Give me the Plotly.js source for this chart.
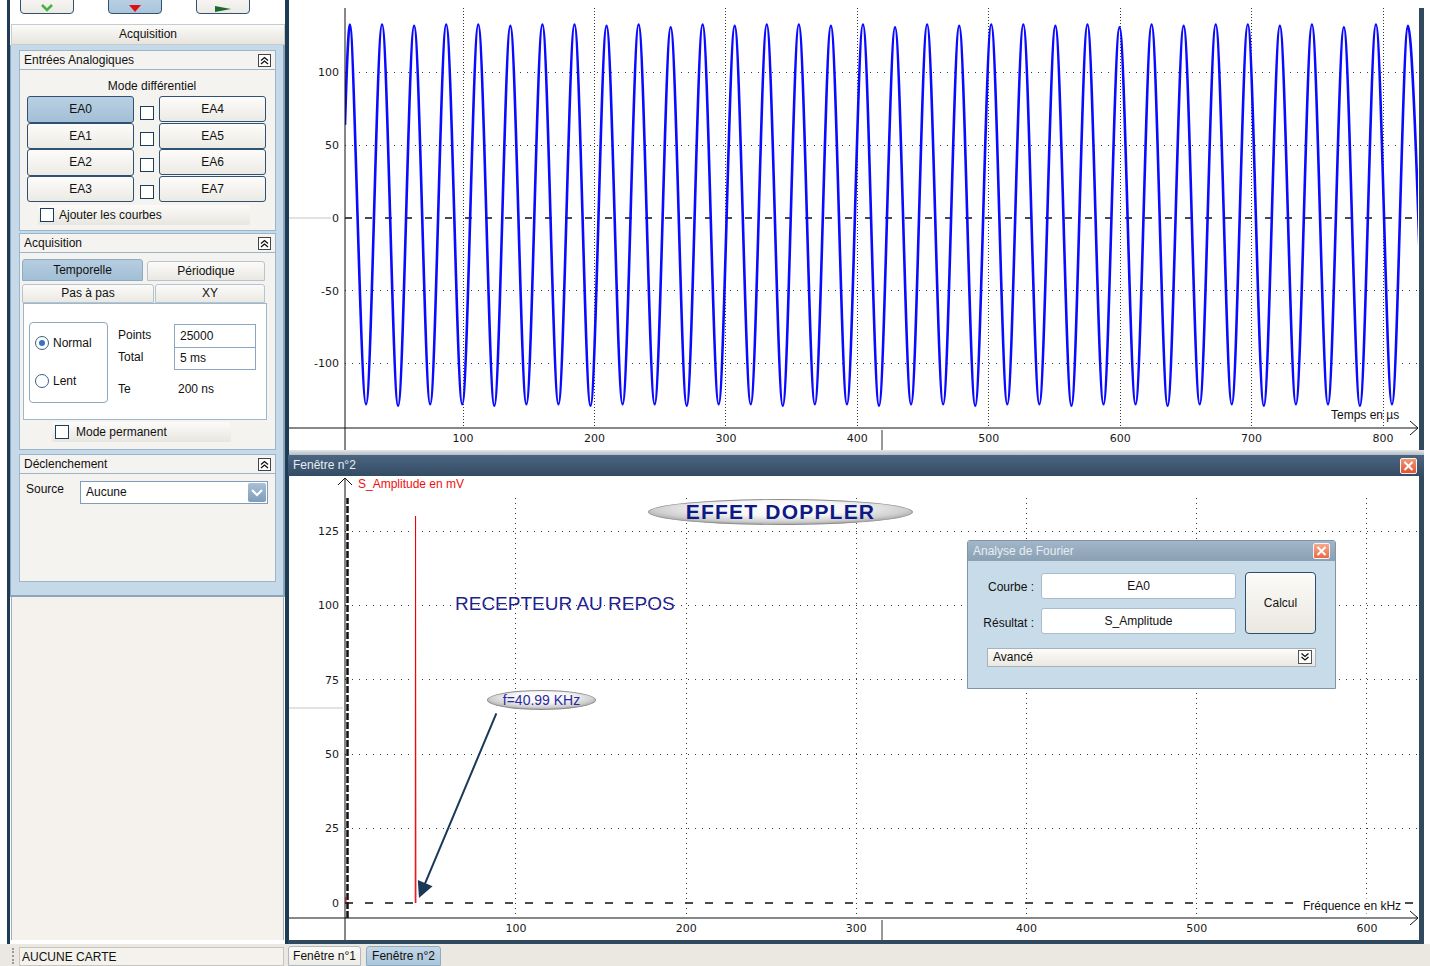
<!DOCTYPE html>
<html><head><meta charset="utf-8">
<script src="https://cdn.plot.ly/plotly-3.0.1.min.js"></script>
<style>
html,body{margin:0;padding:0}
body{width:1430px;height:966px;position:relative;overflow:hidden;background:#fff;font-family:"Liberation Sans",Arial,sans-serif;font-size:12px;color:#111}
.a{position:absolute;box-sizing:border-box}
.t{position:absolute;white-space:nowrap;line-height:14px}
.btn{position:absolute;box-sizing:border-box;border:1px solid #2f5273;border-radius:3px;background:linear-gradient(#fdfcfa,#eceae4);text-align:center;white-space:nowrap}
.sel{background:linear-gradient(#b9d0e3,#a3bfd6)}
.cb{position:absolute;box-sizing:border-box;width:14px;height:14px;border:1px solid #1d3c5c;background:#fff}
.hdr{position:absolute;box-sizing:border-box;left:19px;width:257px;height:20px;background:#f5f3ef;border:1px solid #9ab4ca;padding-left:4px;line-height:18px}
.bd{position:absolute;box-sizing:border-box;left:19px;width:257px;background:#f5f3ef;border:1px solid #9ab4ca;border-top:none}
.col{position:absolute;right:4px;top:3px;width:13px;height:13px;box-sizing:border-box;border:1px solid #444;background:#fff}
.bar{position:absolute;box-sizing:border-box;background:linear-gradient(#fcfbf9,#e8e6e0);border-radius:2px}
.inp{position:absolute;box-sizing:border-box;background:#fff;border:1px solid #8ba6be;padding-left:5px;white-space:nowrap}
.ell{position:absolute;box-sizing:border-box;border-radius:50%;border:1px solid #8c8c8c;background:radial-gradient(ellipse 60% 70% at 50% 35%,#ffffff 0%,#f6f6f6 45%,#cfcfcf 80%,#9c9c9c 100%);text-align:center;white-space:nowrap}
</style></head><body>

<!-- left application panel -->
<div class="a" style="left:11px;top:597px;width:273px;height:343px;background:#f5f2ed;border-left:1px solid #9fb0bd;border-right:1px solid #9fb0bd"></div>
<div class="a" style="left:7px;top:0;width:3px;height:944px;background:#1f3a53"></div>
<div class="a" style="left:285px;top:0;width:4px;height:944px;background:#1f3a53"></div>

<div class="a" style="left:20px;top:-10px;width:54px;height:24px;border:1px solid #2f5273;border-radius:4px;background:linear-gradient(#fdfcfa,#eceae4)"><svg width="52" height="22" style="position:absolute;left:0;top:0"><polyline points="21,14 26,19 31,14" fill="none" stroke="#49b043" stroke-width="2.5"/></svg></div>
<div class="a" style="left:108px;top:-10px;width:54px;height:24px;border:1px solid #2f5273;border-radius:4px;background:linear-gradient(#c3d7e7,#a9c4da)"><svg width="52" height="22" style="position:absolute;left:0;top:0"><polygon points="20,14 32,14 26,21" fill="#e01010"/></svg></div>
<div class="a" style="left:196px;top:-10px;width:54px;height:24px;border:1px solid #2f5273;border-radius:4px;background:linear-gradient(#fdfcfa,#eceae4)"><svg width="52" height="22" style="position:absolute;left:0;top:0"><polygon points="18,15 34,18 18,21" fill="#1d6a2c"/></svg></div>

<div class="a" style="left:11px;top:24px;width:274px;height:21px;background:linear-gradient(#fcfbf9,#e7e4dd);border:1px solid #c3cbd3;text-align:center;line-height:19px">Acquisition</div>
<div class="a" style="left:10px;top:45px;width:275px;height:552px;background:#c6d9e8;border-left:1px solid #8aa5bd;border-right:2px solid #8aa5bd;border-bottom:2px solid #8aa5bd"></div>

<div class="hdr" style="top:50px">Entrées Analogiques<div class="col"><svg width="11" height="11" style="position:absolute;left:0;top:0"><polyline points="2,5.5 5.5,2.5 9,5.5" fill="none" stroke="#111" stroke-width="1.3"/><polyline points="2,9 5.5,6 9,9" fill="none" stroke="#111" stroke-width="1.3"/></svg></div></div>
<div class="bd" style="top:70px;height:161px"></div>
<div class="t" style="left:52px;top:79px;width:200px;text-align:center">Mode différentiel</div>
<div class="btn sel" style="left:27px;top:96px;width:107px;height:27px;line-height:25px">EA0</div>
<div class="btn" style="left:159px;top:96px;width:107px;height:26px;line-height:24px">EA4</div>
<div class="btn" style="left:27px;top:123px;width:107px;height:26px;line-height:24px">EA1</div>
<div class="btn" style="left:159px;top:123px;width:107px;height:26px;line-height:24px">EA5</div>
<div class="btn" style="left:27px;top:149px;width:107px;height:27px;line-height:25px">EA2</div>
<div class="btn" style="left:159px;top:149px;width:107px;height:26px;line-height:24px">EA6</div>
<div class="btn" style="left:27px;top:176px;width:107px;height:26px;line-height:24px">EA3</div>
<div class="btn" style="left:159px;top:176px;width:107px;height:26px;line-height:24px">EA7</div>
<div class="cb" style="left:140px;top:106px"></div>
<div class="cb" style="left:140px;top:132px"></div>
<div class="cb" style="left:140px;top:158px"></div>
<div class="cb" style="left:140px;top:185px"></div>
<div class="bar" style="left:38px;top:205px;width:212px;height:20px"></div>
<div class="cb" style="left:40px;top:208px;width:14px;height:14px"></div>
<div class="t" style="left:59px;top:208px">Ajouter les courbes</div>

<div class="hdr" style="top:233px">Acquisition<div class="col"><svg width="11" height="11" style="position:absolute;left:0;top:0"><polyline points="2,5.5 5.5,2.5 9,5.5" fill="none" stroke="#111" stroke-width="1.3"/><polyline points="2,9 5.5,6 9,9" fill="none" stroke="#111" stroke-width="1.3"/></svg></div></div>
<div class="bd" style="top:253px;height:197px"></div>
<div class="a" style="left:22px;top:259px;width:121px;height:22px;background:linear-gradient(#b5cde0,#a3bfd6);border:1px solid #8eabc4;border-radius:3px 3px 0 0;text-align:center;line-height:20px">Temporelle</div>
<div class="a" style="left:147px;top:261px;width:118px;height:20px;background:linear-gradient(#fcfbf9,#eae8e2);border:1px solid #b6c4d0;border-radius:3px 3px 0 0;text-align:center;line-height:18px">Périodique</div>
<div class="a" style="left:22px;top:284px;width:132px;height:19px;background:linear-gradient(#fcfbf9,#eae8e2);border:1px solid #b6c4d0;border-radius:3px 3px 0 0;text-align:center;line-height:17px">Pas à pas</div>
<div class="a" style="left:155px;top:284px;width:110px;height:19px;background:linear-gradient(#fcfbf9,#eae8e2);border:1px solid #b6c4d0;border-radius:3px 3px 0 0;text-align:center;line-height:17px">XY</div>
<div class="a" style="left:23px;top:303px;width:244px;height:117px;background:#fff;border:1px solid #9db7cc"></div>
<div class="a" style="left:29px;top:322px;width:79px;height:81px;background:#fff;border:1px solid #91a9be;border-radius:4px"></div>
<div class="a" style="left:35px;top:336px;width:14px;height:14px;border:1px solid #3a5f85;border-radius:50%;background:#fff"><div class="a" style="left:3px;top:3px;width:6px;height:6px;border-radius:50%;background:#3d6fc6"></div></div>
<div class="t" style="left:53px;top:336px">Normal</div>
<div class="a" style="left:35px;top:374px;width:14px;height:14px;border:1px solid #3a5f85;border-radius:50%;background:#fff"></div>
<div class="t" style="left:53px;top:374px">Lent</div>
<div class="t" style="left:118px;top:328px">Points</div>
<div class="t" style="left:118px;top:350px">Total</div>
<div class="t" style="left:118px;top:382px">Te</div>
<div class="inp" style="left:174px;top:324px;width:82px;height:24px;line-height:22px">25000</div>
<div class="inp" style="left:174px;top:347px;width:82px;height:23px;line-height:21px">5 ms</div>
<div class="t" style="left:178px;top:382px">200 ns</div>
<div class="bar" style="left:52px;top:422px;width:179px;height:20px"></div>
<div class="cb" style="left:55px;top:425px"></div>
<div class="t" style="left:76px;top:425px">Mode permanent</div>

<div class="hdr" style="top:454px">Déclenchement<div class="col"><svg width="11" height="11" style="position:absolute;left:0;top:0"><polyline points="2,5.5 5.5,2.5 9,5.5" fill="none" stroke="#111" stroke-width="1.3"/><polyline points="2,9 5.5,6 9,9" fill="none" stroke="#111" stroke-width="1.3"/></svg></div></div>
<div class="bd" style="top:474px;height:108px"></div>
<div class="t" style="left:26px;top:482px">Source</div>
<div class="inp" style="left:80px;top:481px;width:188px;height:23px;line-height:21px;border-color:#7f9db9">Aucune</div>
<div class="a" style="left:248px;top:483px;width:18px;height:19px;background:linear-gradient(#a9c0d6,#7f9cb8);border-radius:2px"><svg width="18" height="19" style="position:absolute;left:0;top:0"><polyline points="4,7 9,12 14,7" fill="none" stroke="#fff" stroke-width="2.2"/></svg></div>

<!-- status bar -->
<div class="a" style="left:0;top:944px;width:1430px;height:22px;background:#ebe8e1"></div>
<div class="a" style="left:12px;top:948px;width:2px;height:16px;border-left:2px dotted #9a9a9a"></div>
<div class="a" style="left:19px;top:947px;width:265px;height:19px;background:#f4f2ec;border:1px solid #c9c5bd;padding-left:2px;line-height:19px">AUCUNE CARTE</div>
<div class="a" style="left:288px;top:946px;width:73px;height:20px;background:linear-gradient(#fbfaf7,#eeece6);border:1px solid #aeb9c4;border-radius:3px 3px 0 0;text-align:center;line-height:19px">Fenêtre n°1</div>
<div class="a" style="left:366px;top:946px;width:75px;height:20px;background:linear-gradient(#c3d7e7,#abc5da);border:1px solid #8eabc4;border-radius:3px 3px 0 0;text-align:center;line-height:19px">Fenêtre n°2</div>

<!-- chart window frames -->
<div class="a" style="left:1419px;top:8px;width:5px;height:443px;background:#31495f"></div>
<div class="a" style="left:289px;top:450px;width:1135px;height:5px;background:linear-gradient(#e3e6ea,#b5bdc6)"></div>
<div class="a" style="left:288px;top:455px;width:1136px;height:21px;background:linear-gradient(#4b6581,#344b63);color:#e6edf4;padding-left:5px;line-height:21px">Fenêtre n°2</div>
<div class="a" style="left:1400px;top:458px;width:17px;height:16px;background:linear-gradient(#f29a78,#e2512f);border:1px solid #f4f4f4;border-radius:2px"><svg width="15" height="14" style="position:absolute;left:0;top:0"><line x1="3.5" y1="3" x2="11.5" y2="11" stroke="#fff" stroke-width="2"/><line x1="11.5" y1="3" x2="3.5" y2="11" stroke="#fff" stroke-width="2"/></svg></div>
<div class="a" style="left:1419px;top:476px;width:5px;height:468px;background:#31495f"></div>
<div class="a" style="left:288px;top:940px;width:1136px;height:4px;background:#31495f"></div>

<div id="top" class="a" style="left:289px;top:8px;width:1129px;height:442px"></div>
<div id="bot" class="a" style="left:289px;top:476px;width:1129px;height:464px"></div>

<!-- labels drawn in the acquisition software -->
<div class="ell" style="left:648px;top:499px;width:265px;height:26px;font-weight:bold;font-size:21px;letter-spacing:1.2px;line-height:24px;color:#0d1a86">EFFET DOPPLER</div>
<div class="ell" style="left:487px;top:690px;width:109px;height:20px;font-size:14px;line-height:18px;color:#2a2aa0">f=40.99 KHz</div>

<!-- Fourier dialog -->
<div class="a" style="left:967px;top:540px;width:369px;height:149px;background:#c8dbe9;border:1px solid #7e95a9;border-radius:3px 3px 0 0"></div>
<div class="a" style="left:968px;top:541px;width:367px;height:20px;background:linear-gradient(#a2b6c8,#8aa0b3);color:#e6edf3;padding-left:5px;line-height:20px">Analyse de Fourier</div>
<div class="a" style="left:1313px;top:543px;width:17px;height:16px;background:linear-gradient(#f7a98c,#ea6a4a);border:1px solid #f4f4f4;border-radius:2px"><svg width="15" height="14" style="position:absolute;left:0;top:0"><line x1="3.5" y1="3" x2="11.5" y2="11" stroke="#fff" stroke-width="2"/><line x1="11.5" y1="3" x2="3.5" y2="11" stroke="#fff" stroke-width="2"/></svg></div>
<div class="t" style="left:960px;top:580px;width:74px;text-align:right">Courbe :</div>
<div class="t" style="left:960px;top:616px;width:74px;text-align:right">Résultat :</div>
<div class="a" style="left:1041px;top:573px;width:195px;height:26px;background:#fff;border:1px solid #a9bccc;border-radius:3px;text-align:center;line-height:24px">EA0</div>
<div class="a" style="left:1041px;top:608px;width:195px;height:26px;background:#fff;border:1px solid #a9bccc;border-radius:3px;text-align:center;line-height:24px">S_Amplitude</div>
<div class="a" style="left:1245px;top:572px;width:71px;height:62px;background:linear-gradient(#fcfbf8,#eae7df);border:1px solid #2c4e70;border-radius:4px;text-align:center;line-height:60px">Calcul</div>
<div class="a" style="left:987px;top:648px;width:329px;height:19px;background:linear-gradient(#fdfcfa,#ebe8e1);border:1px solid #a6b3bf;padding-left:5px;line-height:17px">Avancé</div>
<div class="a" style="left:1298px;top:650px;width:14px;height:14px;background:#fff;border:1px solid #555"><svg width="12" height="12" style="position:absolute;left:0;top:0"><polyline points="2.5,2.5 6,5.5 9.5,2.5" fill="none" stroke="#111" stroke-width="1.3"/><polyline points="2.5,6 6,9 9.5,6" fill="none" stroke="#111" stroke-width="1.3"/></svg></div>

<script>
// ---- Fenêtre n°1 : EA0 acquisition (time in µs, voltage in mV) ----
const xTicksTop = [100, 200, 300, 400, 500, 600, 700, 800];
const yTicksTop = [-100, -50, 0, 50, 100];
const yTickTextTop = ['-100', '-50', '0', '50', '100'];
const yGridTop = [-100, -50, 50, 100];
const startTime = [10.2];
const startLevel = [64];
const peakTimes = [14.0, 38.4, 62.8, 87.2, 111.6, 136.0, 160.4, 184.8, 209.2, 233.6, 258.0, 282.3, 306.7, 331.1, 355.5, 379.9, 404.3, 428.7, 453.1, 477.5, 501.9, 526.3, 550.7, 575.1, 599.5, 623.9, 648.3, 672.7, 697.1, 721.5, 745.9, 770.2, 794.6, 819.0];
const peakLevels = [133, 133, 132, 133, 133, 132, 133, 133, 132, 133, 131, 133, 132, 133, 133, 132, 133, 131, 133, 132, 133, 133, 132, 133, 131, 133, 132, 133, 133, 132, 133, 131, 133, 132];
const troughTimes = [26.2, 50.6, 75.0, 99.4, 123.8, 148.2, 172.6, 197.0, 221.4, 245.8, 270.2, 294.5, 318.9, 343.3, 367.7, 392.1, 416.5, 440.9, 465.3, 489.7, 514.1, 538.5, 562.9, 587.3, 611.7, 636.1, 660.5, 684.9, 709.3, 733.7, 758.1, 782.4, 806.8, 831.2];
const troughLevels = [-128, -129, -128, -128, -129, -128, -128, -129, -128, -128, -129, -128, -128, -129, -128, -128, -129, -128, -128, -129, -128, -128, -129, -128, -128, -129, -128, -128, -129, -128, -128, -129, -128, -128];

// ---- Fenêtre n°2 : Fourier spectrum (frequency in kHz, amplitude in mV) ----
const xTicksBot = [100, 200, 300, 400, 500, 600];
const yTicksBot = [0, 25, 50, 75, 100, 125];
const yGridBot = [25, 50, 75, 100, 125];
const freqKHz = [0, 0.2, null, 40.79, 40.99, 41.19];
const ampMV = [2, 0, null, 0, 130, 0];

const tX = [startTime[0]], tY = [startLevel[0]];
for (let i = 0; i < peakTimes.length; i++) {
  tX.push(peakTimes[i]); tY.push(peakLevels[i]);
  tX.push(troughTimes[i]); tY.push(troughLevels[i]);
}

const axFont = {family: 'DejaVu Sans, sans-serif', size: 11, color: '#1a1a1a'};
const lblFont = {family: 'Liberation Sans, Arial, sans-serif', size: 12, color: '#111'};

// pixel helpers for decorations (plot area 345..1418 px wide, 420 px high)
const PL = 345, PW = 1073, PH = 420;
const px = x => (x - PL) / PW;
const pyT = y => (428 - y) / PH;
const pyB = y => (918 - y) / PH;
function pl(x0, y0, x1, y1, color, width, dash, layer) {
  return {type: 'line', xref: 'paper', yref: 'paper', x0: x0, y0: y0, x1: x1, y1: y1,
    line: {color: color, width: width, dash: dash || 'solid'}, layer: layer || 'above'};
}

const topLayout = {
  width: 1129, height: 442, margin: {l: 56, r: 0, t: 0, b: 22},
  paper_bgcolor: '#fff', plot_bgcolor: '#fff', showlegend: false,
  xaxis: {range: [10.2, 826.6], tickmode: 'array', tickvals: xTicksTop, showgrid: true, gridcolor: '#3a3a3a',
    griddash: '1px,2px', gridwidth: 1, zeroline: false, showline: false, ticks: '', tickfont: axFont,
    ticklabelstandoff: 2, fixedrange: true},
  yaxis: {range: [-144.3, 144.3], tickmode: 'array', tickvals: yTicksTop, ticktext: yTickTextTop, showgrid: false,
    zeroline: false, showline: false, ticks: '', tickfont: axFont, ticklabelstandoff: 5, fixedrange: true,
    minor: {tickmode: 'array', tickvals: yGridTop, showgrid: true, gridcolor: '#3a3a3a', griddash: '1px,6px', gridwidth: 1, ticks: ''}},
  shapes: [
    {type: 'line', xref: 'paper', yref: 'y', x0: 0, x1: 1, y0: 0, y1: 0, line: {color: '#111', width: 1.5, dash: '7px,13px'}, layer: 'between'},
    pl(px(289), pyT(218), px(331), pyT(218), '#c4c4c4', 1),
    pl(0, pyT(450), 0, 1, '#111', 1),
    pl(px(289), 0, 1, 0, '#111', 1),
    pl(px(1410), pyT(421), 1, 0, '#111', 1),
    pl(px(1410), pyT(435), 1, 0, '#111', 1),
    pl(px(882), pyT(430), px(882), pyT(450), '#333', 1)
  ],
  annotations: [
    {xref: 'paper', yref: 'paper', x: px(1401), y: pyT(415), xanchor: 'right', yanchor: 'middle',
      text: 'Temps en µs', showarrow: false, font: lblFont}
  ]
};

Plotly.newPlot('top', [{
  x: tX, y: tY, type: 'scatter', mode: 'lines', line: {color: '#0a0aff', width: 2.6, shape: 'spline', smoothing: 1},
  hoverinfo: 'skip', cliponaxis: true
}], topLayout, {staticPlot: true, displayModeBar: false});

const botLayout = {
  width: 1129, height: 464, margin: {l: 56, r: 0, t: 22, b: 22},
  paper_bgcolor: '#fff', plot_bgcolor: '#fff', showlegend: false,
  xaxis: {range: [-0.47, 630], tickmode: 'array', tickvals: xTicksBot, showgrid: true, gridcolor: '#3a3a3a',
    griddash: '1px,4px', gridwidth: 1, zeroline: false, showline: false, ticks: '', tickfont: axFont,
    ticklabelstandoff: 2, fixedrange: true},
  yaxis: {range: [-5.04, 136.1], tickmode: 'array', tickvals: yTicksBot, showgrid: false,
    zeroline: false, showline: false, ticks: '', tickfont: axFont, ticklabelstandoff: 5, fixedrange: true,
    minor: {tickmode: 'array', tickvals: yGridBot, showgrid: true, gridcolor: '#3a3a3a', griddash: '1px,6px', gridwidth: 1, ticks: ''}},
  shapes: [
    {type: 'line', xref: 'paper', yref: 'y', x0: 0, x1: 1, y0: 0, y1: 0, line: {color: '#111', width: 1.5, dash: '8px,12px'}, layer: 'between'},
    pl(px(347.5), 0, px(347.5), 1, '#111', 2.5, '7px,2px', 'between'),
    pl(px(289), pyB(708), px(343), pyB(708), '#c4c4c4', 1),
    pl(0, pyB(940), 0, pyB(478), '#111', 1),
    pl(px(338), pyB(485), 0, pyB(478), '#111', 1),
    pl(px(352), pyB(485), 0, pyB(478), '#111', 1),
    pl(px(289), 0, 1, 0, '#111', 1),
    pl(px(1410), pyB(911), 1, 0, '#111', 1),
    pl(px(1410), pyB(925), 1, 0, '#111', 1),
    pl(px(882), pyB(920), px(882), pyB(940), '#333', 1)
  ],
  annotations: [
    {xref: 'paper', yref: 'paper', x: px(356), y: pyB(484), xanchor: 'left', yanchor: 'middle',
      text: 'S_Amplitude en mV', showarrow: false, font: {family: 'Liberation Sans, Arial, sans-serif', size: 12, color: '#f01010'}},
    {xref: 'paper', yref: 'paper', x: px(1402), y: pyB(906), xanchor: 'right', yanchor: 'middle',
      text: 'Fréquence en kHz', showarrow: false, font: lblFont, bgcolor: '#ffffff', borderpad: 0},
    {xref: 'paper', yref: 'paper', x: px(453), y: pyB(603), xanchor: 'left', yanchor: 'middle',
      text: 'RECEPTEUR AU REPOS', showarrow: false, font: {family: 'Liberation Sans, Arial, sans-serif', size: 19, color: '#1f1f8f'}},
    {xref: 'x', yref: 'y', x: 43.0, y: 1.7, ax: 78, ay: -186, text: '', showarrow: true,
      arrowhead: 2, arrowsize: 1.6, arrowwidth: 2, arrowcolor: '#1a3858', standoff: 0, startstandoff: 0}
  ]
};

Plotly.newPlot('bot', [{
  x: freqKHz, y: ampMV, type: 'scatter', mode: 'lines', line: {color: '#f00000', width: 1},
  hoverinfo: 'skip', connectgaps: false
}], botLayout, {staticPlot: true, displayModeBar: false});
</script>
</body></html>
